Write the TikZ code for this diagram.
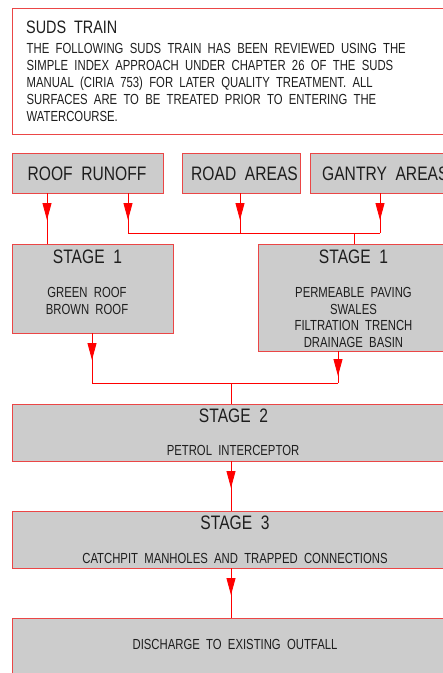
\documentclass[tikz,border=0pt]{standalone}
\usepackage{fontspec}
\setmainfont{Liberation Sans}[FakeStretch=0.8]
\newfontfamily\narrowf{Liberation Sans}[FakeStretch=0.775]
\usetikzlibrary{arrows.meta,decorations.markings}
\definecolor{boxred}{RGB}{235,70,70}
\definecolor{boxgray}{RGB}{204,204,204}
\definecolor{txt}{RGB}{30,30,30}
\tikzset{
  x=1pt, y=-1pt,
  box/.style={draw=boxred, line width=0.9pt, fill=boxgray, rectangle, anchor=north west, inner sep=0pt, outer sep=0pt},
  notebox/.style={box, fill=white},
  big/.style={font=\fontsize{19.5}{22}\selectfont, text=txt, inner sep=0pt},
  small/.style={font=\narrowf\fontsize{14.6}{17}\selectfont, text=txt, inner sep=0pt},
  title/.style={font=\fontsize{18}{21}\selectfont, text=txt, inner sep=0pt},
  conn/.style={draw=red, line width=0.8pt},
  flow/.style={conn, postaction={decorate}, decoration={markings,
     mark=at position 27pt with {\arrow{Triangle[length=17pt,width=9pt]}}}},
  flowb/.style={conn, postaction={decorate}, decoration={markings,
     mark=at position 25pt with {\arrow{Triangle[length=17pt,width=9pt]}}}},
}
\begin{document}
\begin{tikzpicture}[red]
\useasboundingbox (0,0) rectangle (443,673);
\clip (0,0) rectangle (443,673);
% note box
\node[notebox, minimum width=450pt, minimum height=126pt] (note) at (12,8) {};
\node[title, anchor=base west] (ttl) at (26,33.3) {SUDS\ \ TRAIN};
\node[small, anchor=base west] (l1) at (26.5,53.3) {THE\ \ FOLLOWING\ \ SUDS\ \ TRAIN\ \ HAS\ \ BEEN\ \ REVIEWED\ \ USING\ \ THE};
\node[small, anchor=base west] (l2) at (26.5,70.2) {SIMPLE\ \ INDEX\ \ APPROACH\ \ UNDER\ \ CHAPTER\ \ 26\ \ OF\ \ THE\ \ SUDS};
\node[small, anchor=base west] (l3) at (26.5,87.5) {MANUAL\ \ (CIRIA\ \ 753)\ \ FOR\ \ LATER\ \ QUALITY\ \ TREATMENT.\ \ ALL};
\node[small, anchor=base west] (l4) at (26.5,104.7) {SURFACES\ \ ARE\ \ TO\ \ BE\ \ TREATED\ \ PRIOR\ \ TO\ \ ENTERING\ \ THE};
\node[small, anchor=base west] (l5) at (26.5,121.7) {WATERCOURSE.};
% sources
\node[box, minimum width=151pt, minimum height=40pt] (roof) at (12,153) {};
\node[box, minimum width=118pt, minimum height=40pt] (road) at (182,153) {};
\node[box, minimum width=150pt, minimum height=40pt] (gantry) at (310,153) {};
\node[big, anchor=base] (roofT) at (87,180) {ROOF\ \ RUNOFF};
\node[big, anchor=base west] (roadT) at (191,180) {ROAD\ \ AREAS};
\node[big, anchor=base west] (gantryT) at (322,180) {GANTRY\ \ AREAS};
% stage 1
\node[box, minimum width=161pt, minimum height=89pt] (s1a) at (12,244) {};
\node[box, minimum width=200pt, minimum height=107pt] (s1b) at (258,244) {};
\node[big, anchor=base] (s1aT) at (87.5,263.3) {STAGE\ \ 1};
\node[small, anchor=base] (s1a1) at (87,297.3) {GREEN\ \ ROOF};
\node[small, anchor=base] (s1a2) at (87,314) {BROWN\ \ ROOF};
\node[big, anchor=base] (s1bT) at (353.5,263.3) {STAGE\ \ 1};
\node[small, anchor=base] (s1b1) at (353.5,297.3) {PERMEABLE\ \ PAVING};
\node[small, anchor=base] (s1b2) at (353.5,314) {SWALES};
\node[small, anchor=base] (s1b3) at (353.5,330.7) {FILTRATION\ \ TRENCH};
\node[small, anchor=base] (s1b4) at (353.5,347.3) {DRAINAGE\ \ BASIN};
% stage 2
\node[box, minimum width=450pt, minimum height=57pt] (s2) at (12,404) {};
\node[big, anchor=base] (s2T) at (233.5,422.3) {STAGE\ \ 2};
\node[small, anchor=base] (s2a) at (233,455.7) {PETROL\ \ INTERCEPTOR};
% stage 3
\node[box, minimum width=450pt, minimum height=57pt] (s3) at (12,511) {};
\node[big, anchor=base] (s3T) at (235,529) {STAGE\ \ 3};
\node[small, anchor=base] (s3a) at (235,563.3) {CATCHPIT\ \ MANHOLES\ \ AND\ \ TRAPPED\ \ CONNECTIONS};
% discharge
\node[box, minimum width=450pt, minimum height=80pt] (dis) at (12,618) {};
\node[small, anchor=base] (disT) at (235,649.3) {DISCHARGE\ \ TO\ \ EXISTING\ \ OUTFALL};
% junctions
\coordinate (jL) at (128,233);
\coordinate (jR) at (380,233);
\coordinate (jRoad) at (240,233);
\coordinate (jDown) at (354,233);
\coordinate (kL) at (92,383);
\coordinate (kR) at (338,383);
\coordinate (kDown) at (231,383);
% connectors
\path[flow] (roof.south -| 47,0) -- (s1a.north -| 47,0);
\path[flow] (roof.south -| jL) -- (jL);
\path[flow] (road.south -| jRoad) -- (jRoad);
\path[flow] (gantry.south -| jR) -- (jR);
\path[conn] (jL) -- (jR);
\path[conn] (jDown) -- (s1b.north -| jDown);
\path[flow] (s1a.south -| kL) -- (kL);
\path[flowb] (s1b.south -| kR) -- (kR);
\path[conn] (kL) -- (kR);
\path[conn] (kDown) -- (s2.north -| kDown);
\path[flow] (s2.south -| kDown) -- (s3.north -| kDown);
\path[flow] (s3.south -| kDown) -- (dis.north -| kDown);
\end{tikzpicture}
\end{document}
